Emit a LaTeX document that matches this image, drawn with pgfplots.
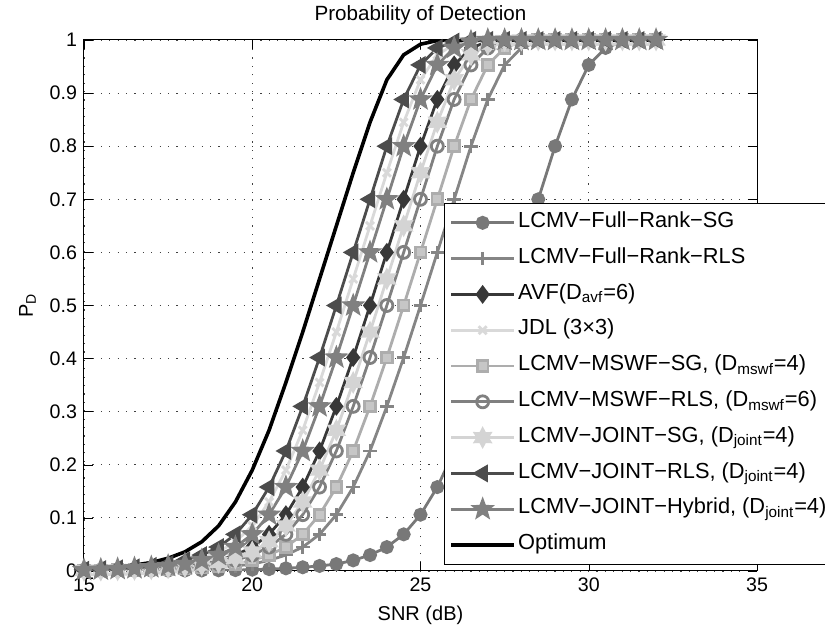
\documentclass[border=0pt]{standalone}
\usepackage{fontspec}
\setmainfont{Liberation Sans}
\usepackage{pgfplots}
\usepackage{pgfplotstable}
\pgfplotsset{compat=1.18}
\usetikzlibrary{plotmarks}

\definecolor{cfrsg}{gray}{0.47}
\definecolor{cfrls}{gray}{0.52}
\definecolor{cavf}{gray}{0.22}
\definecolor{cjdl}{gray}{0.85}
\definecolor{cmsg}{gray}{0.68}
\definecolor{cmrls}{gray}{0.50}
\definecolor{cjsg}{gray}{0.83}
\definecolor{cjrls}{gray}{0.30}
\definecolor{chyb}{gray}{0.50}

% filled five-pointed star
\pgfdeclareplotmark{pstar}{%
  \pgfpathmoveto{\pgfpointpolar{90}{\pgfplotmarksize}}%
  \pgfpathlineto{\pgfpointpolar{126}{0.42\pgfplotmarksize}}%
  \pgfpathlineto{\pgfpointpolar{162}{\pgfplotmarksize}}%
  \pgfpathlineto{\pgfpointpolar{198}{0.42\pgfplotmarksize}}%
  \pgfpathlineto{\pgfpointpolar{234}{\pgfplotmarksize}}%
  \pgfpathlineto{\pgfpointpolar{270}{0.42\pgfplotmarksize}}%
  \pgfpathlineto{\pgfpointpolar{306}{\pgfplotmarksize}}%
  \pgfpathlineto{\pgfpointpolar{342}{0.42\pgfplotmarksize}}%
  \pgfpathlineto{\pgfpointpolar{18}{\pgfplotmarksize}}%
  \pgfpathlineto{\pgfpointpolar{54}{0.42\pgfplotmarksize}}%
  \pgfpathclose\pgfusepathqfillstroke}
% filled six-pointed star
\pgfdeclareplotmark{hstar}{%
  \pgfpathmoveto{\pgfpointpolar{90}{\pgfplotmarksize}}%
  \pgfpathlineto{\pgfpointpolar{120}{0.55\pgfplotmarksize}}%
  \pgfpathlineto{\pgfpointpolar{150}{\pgfplotmarksize}}%
  \pgfpathlineto{\pgfpointpolar{180}{0.55\pgfplotmarksize}}%
  \pgfpathlineto{\pgfpointpolar{210}{\pgfplotmarksize}}%
  \pgfpathlineto{\pgfpointpolar{240}{0.55\pgfplotmarksize}}%
  \pgfpathlineto{\pgfpointpolar{270}{\pgfplotmarksize}}%
  \pgfpathlineto{\pgfpointpolar{300}{0.55\pgfplotmarksize}}%
  \pgfpathlineto{\pgfpointpolar{330}{\pgfplotmarksize}}%
  \pgfpathlineto{\pgfpointpolar{0}{0.55\pgfplotmarksize}}%
  \pgfpathlineto{\pgfpointpolar{30}{\pgfplotmarksize}}%
  \pgfpathlineto{\pgfpointpolar{60}{0.55\pgfplotmarksize}}%
  \pgfpathclose\pgfusepathqfillstroke}

% P_D against SNR, markers every 0.5 dB
\pgfplotstableread{
x    opt    jrls   jdl    hyb    avf    jsg    mrls   msg    frls   frsg
15   0.004  0.0025 0.002  0.0017 0.0013 0.0011 0.001  0.0008 0.0006 0.0002
15.5 0.006  0.0035 0.003  0.0025 0.0017 0.0015 0.0013 0.001  0.0008 0.0003
16   0.008  0.005  0.004  0.0035 0.0025 0.002  0.0017 0.0013 0.001  0.0003
16.5 0.011  0.007  0.006  0.005  0.0035 0.003  0.0025 0.0017 0.0013 0.0004
17   0.016  0.0095 0.008  0.007  0.005  0.004  0.0035 0.0025 0.0017 0.0005
17.5 0.024  0.013  0.011  0.0095 0.007  0.006  0.005  0.0035 0.0025 0.0006
18   0.036  0.020  0.016  0.013  0.0095 0.008  0.007  0.005  0.0035 0.0008
18.5 0.055  0.030  0.024  0.020  0.013  0.011  0.0095 0.007  0.005  0.001
19   0.085  0.045  0.036  0.030  0.020  0.016  0.013  0.0095 0.007  0.0013
19.5 0.13   0.069  0.055  0.045  0.030  0.024  0.020  0.013  0.0095 0.0017
20   0.19   0.106  0.085  0.069  0.045  0.036  0.030  0.020  0.013  0.0025
20.5 0.265  0.158  0.13   0.106  0.069  0.055  0.045  0.030  0.020  0.0035
21   0.355  0.226  0.19   0.158  0.106  0.085  0.069  0.045  0.030  0.005
21.5 0.45   0.31   0.265  0.226  0.158  0.13   0.106  0.069  0.045  0.007
22   0.55   0.402  0.355  0.31   0.226  0.19   0.158  0.106  0.069  0.0095
22.5 0.65   0.5    0.45   0.402  0.31   0.265  0.226  0.158  0.106  0.013
23   0.75   0.60   0.55   0.5    0.402  0.355  0.31   0.226  0.158  0.020
23.5 0.845  0.70   0.65   0.60   0.5    0.45   0.402  0.31   0.226  0.030
24   0.925  0.80   0.75   0.70   0.60   0.55   0.5    0.402  0.31   0.045
24.5 0.972  0.888  0.845  0.80   0.70   0.65   0.60   0.5    0.402  0.069
25   0.992  0.953  0.925  0.888  0.80   0.75   0.70   0.60   0.5    0.106
25.5 0.999  0.985  0.972  0.953  0.888  0.845  0.80   0.70   0.60   0.158
26   1      0.997  0.992  0.985  0.953  0.925  0.888  0.80   0.70   0.226
26.5 1      1      0.999  0.997  0.985  0.972  0.953  0.888  0.80   0.31
27   1      1      1      1      0.997  0.992  0.985  0.953  0.888  0.402
27.5 1      1      1      1      1      0.999  0.997  0.985  0.953  0.5
28   1      1      1      1      1      1      1      0.997  0.985  0.60
28.5 1      1      1      1      1      1      1      1      0.997  0.70
29   1      1      1      1      1      1      1      1      1      0.80
29.5 1      1      1      1      1      1      1      1      1      0.888
30   1      1      1      1      1      1      1      1      1      0.953
30.5 1      1      1      1      1      1      1      1      1      0.985
31   1      1      1      1      1      1      1      1      1      0.997
31.5 1      1      1      1      1      1      1      1      1      1
32   1      1      1      1      1      1      1      1      1      1
}\pdtable

\begin{document}
\begin{tikzpicture}
\begin{axis}[
    name=ax,
    width=336.5pt, height=265.5pt,
    scale only axis,
    xmin=15, xmax=35,
    ymin=0, ymax=1,
    xtick={15,20,25,30,35},
    ytick={0,0.1,0.2,0.3,0.4,0.5,0.6,0.7,0.8,0.9,1},
    grid=major,
    grid style={black!75, line width=0.4pt, dash pattern=on 0.6pt off 3.6pt},
    axis line style={black, line width=0.5pt},
    tick style={black},
    /pgf/number format/assume math mode=true,
    tick label style={font=\fontsize{9.8}{11}\selectfont},
    label style={font=\fontsize{10}{11}\selectfont},
    title style={font=\fontsize{10.3}{11}\selectfont, yshift=-2pt},
    title={Probability of Detection},
    xlabel={SNR (dB)},
    ylabel={P\textsubscript{D}},
    every axis plot/.append style={line width=1.4pt, mark size=2.8pt, mark options={solid}},
    legend image code/.code={\draw[mark repeat=2,mark phase=2] plot coordinates {(0cm,0cm) (0.55cm,0cm) (1.1cm,0cm)};},
    legend cell align=left,
    legend style={at={(0.535,0.693)}, anchor=north west, draw=black, line width=0.5pt,
      font=\fontsize{10.9}{12}\selectfont, row sep=3.6pt, inner sep=2.5pt,
      nodes={inner sep=1.2pt, text height=8.3pt, text depth=3.6pt}},
]
\addplot[color=cfrsg, mark=*, mark options={fill=cfrsg}] table[x=x, y=frsg] {\pdtable};
\addlegendentry{LCMV−Full−Rank−SG}
\addplot[color=cfrls, mark=+, mark size=3.4pt] table[x=x, y=frls] {\pdtable};
\addlegendentry{LCMV−Full−Rank−RLS}
\addplot[color=cavf, mark=diamond*, mark size=3.6pt, mark options={fill=cavf}] table[x=x, y=avf] {\pdtable};
\addlegendentry{AVF(D\textsubscript{avf}=6)}
\addplot[color=cjdl, mark=x, mark size=2.8pt] table[x=x, y=jdl] {\pdtable};
\addlegendentry{JDL (3×3)}
\addplot[color=cmsg, mark=square*, mark size=2.7pt, mark options={fill=cmsg!70!white}] table[x=x, y=msg] {\pdtable};
\addlegendentry{LCMV−MSWF−SG, (D\textsubscript{mswf}=4)}
\addplot[color=cmrls, mark=o, mark size=3pt] table[x=x, y=mrls] {\pdtable};
\addlegendentry{LCMV−MSWF−RLS, (D\textsubscript{mswf}=6)}
\addplot[color=cjsg, mark=hstar, mark size=4.2pt, mark options={fill=cjsg}] table[x=x, y=jsg] {\pdtable};
\addlegendentry{LCMV−JOINT−SG, (D\textsubscript{joint}=4)}
\addplot[color=cjrls, mark=triangle*, mark size=3.8pt, mark options={fill=cjrls, rotate=90}] table[x=x, y=jrls] {\pdtable};
\addlegendentry{LCMV−JOINT−RLS, (D\textsubscript{joint}=4)}
\addplot[color=chyb, mark=pstar, mark size=4.4pt, mark options={fill=chyb}] table[x=x, y=hyb] {\pdtable};
\addlegendentry{LCMV−JOINT−Hybrid, (D\textsubscript{joint}=4)}
\addplot[color=black, line width=1.8pt, no marks] table[x=x, y=opt] {\pdtable};
\addlegendentry{Optimum}
\end{axis}
\pgfresetboundingbox
\useasboundingbox ([xshift=-42pt,yshift=-29pt]ax.south west) rectangle ([xshift=34pt,yshift=20pt]ax.north east);
\end{tikzpicture}
\end{document}
